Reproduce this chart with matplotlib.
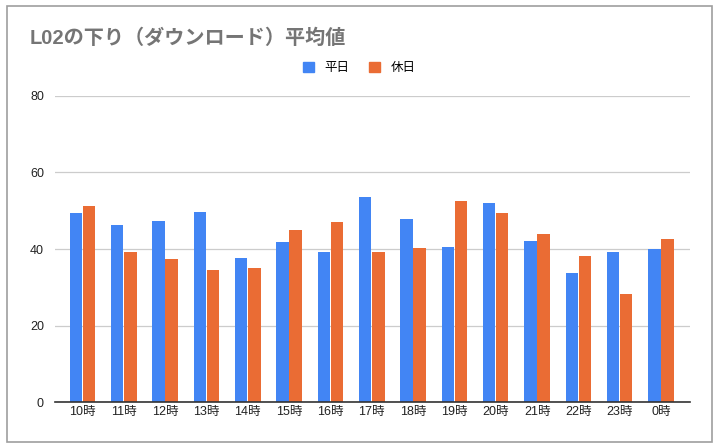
import numpy as np
import matplotlib
matplotlib.use("Agg")
import matplotlib.pyplot as plt
from matplotlib.patches import Rectangle, Patch

plt.rcParams['font.family'] = ['Liberation Sans', 'Noto Sans CJK JP', 'DejaVu Sans']

# -------------------------
# data
# -------------------------
hours = ["10時", "11時", "12時", "13時", "14時", "15時", "16時", "17時",
         "18時", "19時", "20時", "21時", "22時", "23時", "0時"]
weekday = [49.4, 46.2, 47.3, 49.6, 37.6, 41.8, 39.2, 53.5,
           47.8, 40.5, 52.0, 42.0, 33.7, 39.2, 40.0]
holiday = [51.2, 39.2, 37.3, 34.5, 35.0, 44.9, 47.0, 39.2,
           40.2, 52.5, 49.3, 43.9, 38.1, 28.2, 42.6]
series_names = ["平日", "休日"]
yticks = [0, 20, 40, 60, 80]

BLUE = "#4285F4"
ORANGE = "#EA6C34"

W, H = 718, 448
fig = plt.figure(figsize=(W / 100, H / 100), dpi=100)

# outer frame like the sheets chart border
fig.patches.append(Rectangle((7 / W, 1 - 442 / H), 705 / W, 436 / H,
                             transform=fig.transFigure, fill=False,
                             edgecolor="#9e9e9e", linewidth=1.2))

ax = fig.add_axes([55 / W, 46 / H, 635 / W, 306 / H])

x = np.arange(len(hours))
bw = 0.30
ax.bar(x - bw / 2 - 0.008, weekday, bw, color=BLUE, zorder=3)
ax.bar(x + bw / 2 + 0.008, holiday, bw, color=ORANGE, zorder=3)

ax.set_xlim(-0.665, len(hours) - 1 + 0.70)
ax.set_ylim(0, 80)
ax.set_yticks(yticks)
ax.set_xticks(x)
ax.set_xticklabels(hours, fontsize=9, color="#222222")
ax.tick_params(axis="y", labelsize=9, labelcolor="#222222", length=0, pad=8)
ax.tick_params(axis="x", length=0, pad=3)
ax.grid(axis="y", color="#cccccc", linewidth=0.9, zorder=0)
for s in ["top", "right", "left"]:
    ax.spines[s].set_visible(False)
ax.spines["bottom"].set_color("#333333")
ax.spines["bottom"].set_linewidth(1.2)
ax.spines["bottom"].set_zorder(4)

fig.text(30 / W, 1 - 38 / H, "L02の下り（ダウンロード）平均値", fontsize=14.5,
         fontweight="bold", color="#757575", va="center", ha="left")

handles = [Patch(color=BLUE), Patch(color=ORANGE)]
fig.legend(handles, series_names, loc="center", bbox_to_anchor=(359 / W, 1 - 68 / H),
           ncol=2, frameon=False, fontsize=9, handlelength=0.9, handleheight=0.9,
           handletextpad=0.8, columnspacing=1.6)

fig.savefig("out.png", dpi=100)
